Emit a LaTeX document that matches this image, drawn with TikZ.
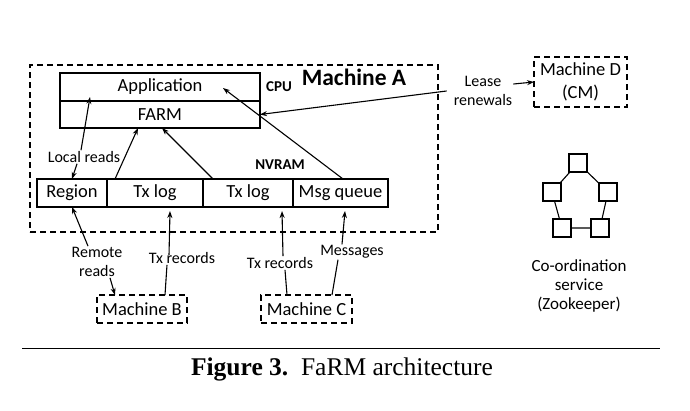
\documentclass[tikz,border=0pt]{standalone}
\usepackage{fontspec}
\setmainfont{Carlito}
\newfontfamily\capfont{Liberation Serif}
\usetikzlibrary{arrows.meta}

\begin{document}
\begin{tikzpicture}[x=1pt,y=-1pt,
  blk/.style={draw,line width=1.1pt,inner sep=0pt,outer sep=0pt,font=\fontsize{18.5}{22}\selectfont},
  machbox/.style={draw,line width=2pt,dash pattern=on 6pt off 4pt,inner sep=0pt,outer sep=0pt,align=center,font=\fontsize{18.5}{23}\selectfont},
  lbl/.style={inner sep=1pt,align=center,font=\fontsize{16}{19}\selectfont},
  hd/.style={inner sep=1pt,font=\fontsize{15}{18}\selectfont\bfseries},
  arr/.style={line width=1.1pt,-{Stealth[length=7pt,width=5pt]}},
  ln/.style={line width=1.1pt},
  zkbox/.style={draw,line width=1.3pt,minimum size=18pt,inner sep=0pt,outer sep=0pt}]
\useasboundingbox (0,0) rectangle (690,410);
% Machine A
\node[machbox,minimum width=408pt,minimum height=167pt] (machA) at (234,148.5) {};
\node[inner sep=1pt,font=\fontsize{23.5}{26}\selectfont\bfseries] (machAlbl) at (354,77) {Machine A};
\node[hd] (cpu) at (279,87) {CPU};
\node[hd] (nvram) at (280,165) {NVRAM};
\node[blk,minimum width=200pt,minimum height=28pt] (app) at (160,87) {Application};
\node[blk,minimum width=200pt,minimum height=27pt] (farm) at (160,114.5) {FARM};
%NVRAM row
\node[blk,minimum width=70pt,minimum height=28pt] (region) at (72,193) {Region};
\node[blk,minimum width=96pt,minimum height=28pt] (txlogA) at (155,193) {Tx log};
\node[blk,minimum width=90pt,minimum height=28pt] (txlogB) at (248,193) {Tx log};
\node[blk,minimum width=95pt,minimum height=28pt] (msgq) at (340.5,193) {Msg queue};
\node[lbl] (localreads) at (84,157) {Local reads};
\draw[arr] ([xshift=-3pt]localreads.north) -- ([xshift=30pt,yshift=4pt]app.south west);
\draw[arr] ([xshift=-7pt]localreads.south) -- (region.north);
\draw[arr] ([xshift=8pt]region.north east) -- ([xshift=-22pt]farm.south);
\draw[arr] ([xshift=10pt]txlogA.north east) -- ([xshift=2pt]farm.south);
\draw[arr] ([xshift=2.5pt]msgq.north) -- ([xshift=63pt,yshift=-1pt]app.center);
% Machine D
\node[machbox,minimum width=93pt,minimum height=50pt] (machD) at (580.5,82) {Machine D\\(CM)};
\node[lbl] (lease) at (483,91) {Lease\\renewals};
\draw[arr] ([xshift=-6pt]lease.west) -- (farm.east);
\draw[arr] ([yshift=7pt]lease.east) -- (machD.west);
% Machines B, C
\node[machbox,minimum width=90pt,minimum height=28pt] (machB) at (142,309) {Machine B};
\node[machbox,minimum width=91pt,minimum height=28pt] (machC) at (306.5,309) {Machine C};
\node[lbl] (remote) at (97,262) {Remote\\reads};
\node[lbl] (txrecB) at (182,258) {Tx records};
\node[lbl] (txrecC) at (280,263) {Tx records};
\node[lbl] (msgs) at (352,252) {Messages};
\draw[arr] ([xshift=-9pt]remote.north) -- (region.south);
\draw[arr] ([xshift=13pt]remote.south) -- ([xshift=18pt]machB.north west);
\draw[arr] ([xshift=-13pt,yshift=-4pt]txrecB.north) -- ([xshift=15pt,yshift=-4pt]txlogA.south);
\draw[ln] ([xshift=-22pt]machB.north east) -- ([xshift=-15pt]txrecB.south);
\draw[arr] ([xshift=3pt]txrecC.north) -- ([xshift=34pt,yshift=-4pt]txlogB.south);
\draw[ln] ([xshift=26pt]machC.north west) -- ([xshift=5pt]txrecC.south);
\draw[arr] ([xshift=-10pt]msgs.north) -- ([xshift=4.5pt,yshift=-4pt]msgq.south);
\draw[ln] ([xshift=-20pt]machC.north east) -- ([xshift=-14pt]msgs.south);
% Zookeeper ring
\node[zkbox] (zkA) at (578,163) {};
\node[zkbox] (zkB) at (552,192) {};
\node[zkbox] (zkC) at (608,192) {};
\node[zkbox] (zkD) at (562,228) {};
\node[zkbox] (zkE) at (600,228) {};
\draw[ln] (zkA) -- (zkB) (zkA) -- (zkC) (zkB) -- (zkD) (zkC) -- (zkE) (zkD) -- (zkE);
\node[inner sep=1pt,align=center,font=\fontsize{17}{19}\selectfont] (coord) at (579,286) {Co-ordination\\service\\(Zookeeper)};
% caption
\draw[line width=1pt] (22,348) -- (660,348);
\node[inner sep=0pt,font=\capfont\fontsize{25.5}{28}\selectfont] (cap) at (342,369) {\textbf{Figure 3.}\hspace{0.5em}FaRM architecture};
\end{tikzpicture}
\end{document}
